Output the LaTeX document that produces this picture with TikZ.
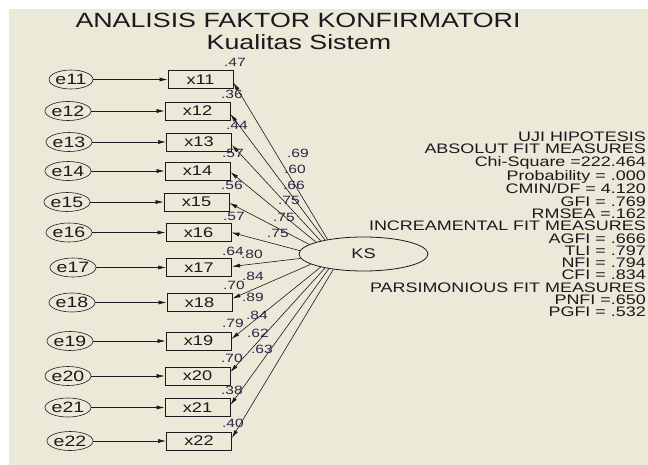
\documentclass[tikz,border=0pt]{standalone}
\usepackage{fontspec}
\setmainfont{Liberation Sans}[FakeStretch=1.3]
\usetikzlibrary{arrows.meta,shapes.geometric,calc}
\definecolor{bg}{RGB}{236,233,216}
\definecolor{ink}{RGB}{25,25,30}
\definecolor{num}{RGB}{40,40,75}
\begin{document}
\begin{tikzpicture}[x=1pt,y=-1pt,
  obs/.style={draw=ink, line width=0.9pt, minimum width=65pt, minimum height=18pt, inner sep=0pt, font=\fontsize{14}{14}\selectfont, text=ink},
  err/.style={draw=ink, ellipse, line width=0.6pt, minimum width=33pt, minimum height=19pt, inner sep=0pt, font=\fontsize{15}{15}\selectfont, text=ink},
  lat/.style={draw=ink, ellipse, line width=0.8pt, minimum width=129pt, minimum height=34pt, inner sep=0pt, font=\fontsize{14}{14}\selectfont, text=ink},
  lab/.style={font=\fontsize{12}{12}\selectfont, text=num, inner sep=0pt},
  arr/.style={draw=ink, line width=0.6pt, -{Latex[length=8pt,width=4pt]}},
  ttl/.style={font=\fontsize{20.6}{22}\selectfont, text=ink, inner sep=0pt, anchor=base},
]
\useasboundingbox (0,0) rectangle (648,465);
\fill[white] (0,0) rectangle (648,465);
\fill[bg] (9,9) rectangle (648,465);

\node[ttl] (t1) at (298,28) {ANALISIS FAKTOR KONFIRMATORI};
\node[ttl] (t2) at (299,50) {Kualitas Sistem};

\node[lat] (KS) at (363.5,254) {KS};

% observed boxes
\foreach \n/\x/\y in {11/200.5/79.5,12/197.5/111,13/199/142,14/197.5/171,15/196.5/202,16/198.5/232.5,17/199/267.5,18/199.5/302.5,19/198.5/341,20/197.5/376,21/197.5/407.5,22/199/441}
  \node[obs] (x\n) at (\x,\y) {x\n};
% error ellipses
\foreach \n/\x/\y in {11/71/79.5,12/68/111,13/69/142,14/68/171,15/67/202,16/69/232.5,17/73/267.5,18/72/302.5,19/70/341,20/68/376,21/68/407.5,22/70/441}
  \node[err] (e\n) at (\x,\y) {e\n};
\foreach \n in {11,...,22}
  \draw[arr] (e\n) -- (x\n);

% loadings
\foreach \n/\a/\d in {11/158/3,12/160/3,13/163/3,14/166/1,15/170/1,16/177/0,17/184/-1,18/191/-4,19/197/-2,20/200/-4,21/203/-2.5,22/207/-3}
  \draw[arr] (KS.\a) -- ($(x\n.east)+(0,\d)$);

% squared multiple correlations
\foreach \n/\v/\x/\y in {a/.47/235/62,b/.36/232/94,c/.44/237/125,d/.57/233/153,e/.56/232/185,f/.57/234/216,g/.64/233/251,h/.70/234/285,i/.79/233/323,j/.70/232/358,k/.38/232/390,l/.40/233/423}
  \node[lab] (r\n) at (\x,\y) {\v};
% loading labels
\foreach \n/\v/\x/\y in {a/.69/298/153,b/.60/295/169,c/.66/294/185,d/.75/289/200,e/.75/284/217,f/.75/278/233,g/.80/252/254,h/.84/253/276,i/.89/253/297,j/.84/257/315,k/.62/258/333,l/.63/262/349}
  \node[lab] (l\n) at (\x,\y) {\v};

\node[anchor=base east, align=right, inner sep=0pt, text=ink, font=\fontsize{13.8}{12.29}\selectfont] (fit) at (646,316.8)
{UJI HIPOTESIS\\ ABSOLUT FIT MEASURES\\ Chi-Square =222.464\\ Probability = .000\\ CMIN/DF = 4.120\\ GFI = .769\\ RMSEA =.162\\ INCREAMENTAL FIT MEASURES\\ AGFI = .666\\ TLI = .797\\ NFI = .794\\ CFI = .834\\ PARSIMONIOUS FIT MEASURES\\ PNFI =.650\\ PGFI = .532};
\end{tikzpicture}
\end{document}
